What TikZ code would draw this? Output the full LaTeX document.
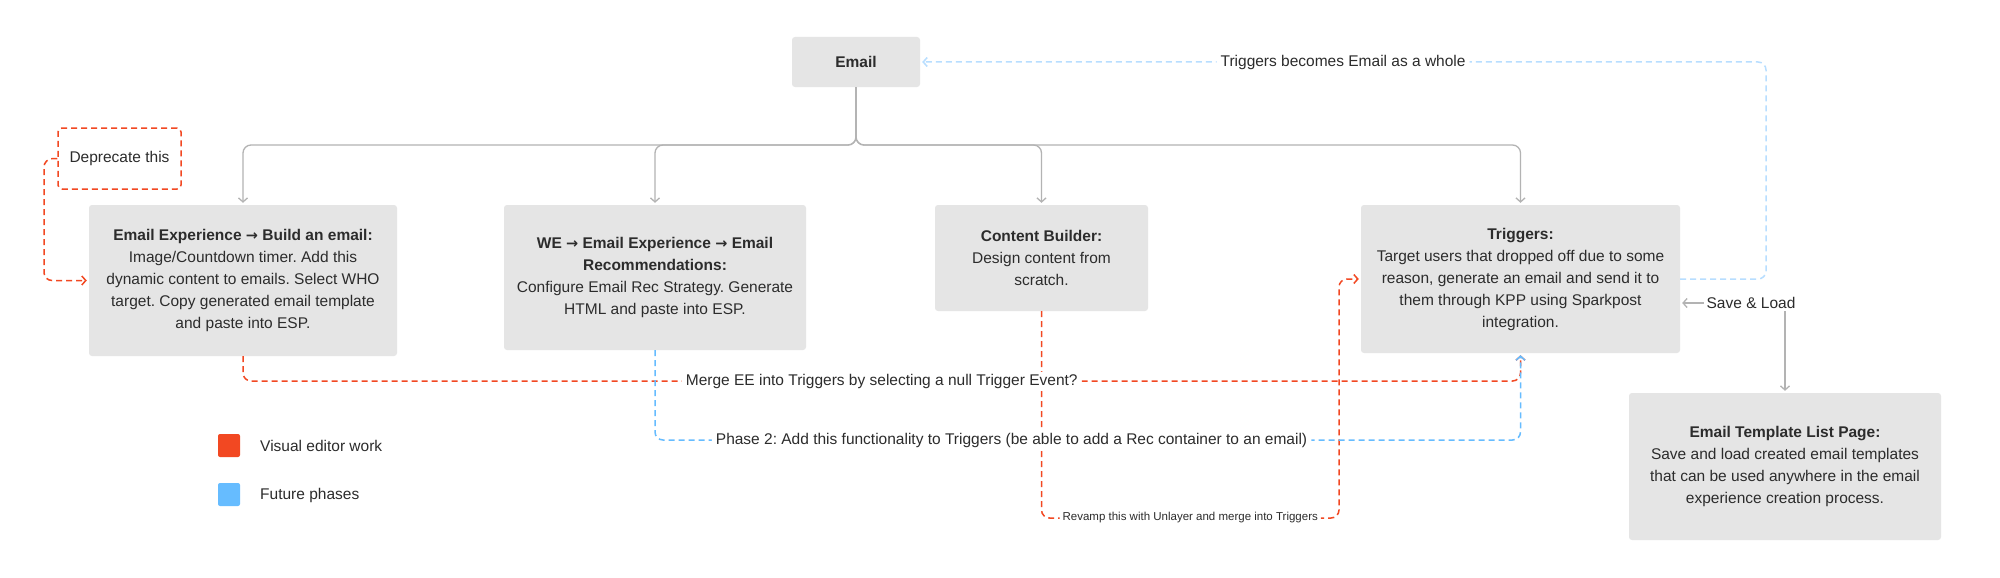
\documentclass[tikz,border=0pt]{standalone}
\usepackage{fontspec}
\setmainfont{Liberation Sans}
\newfontfamily\arrowfont{DejaVu Sans}
\newcommand{\rarr}{{\arrowfont\fontsize{14.5}{22}\selectfont →}}
\usetikzlibrary{arrows.meta}
\definecolor{boxfill}{HTML}{E5E5E5}
\definecolor{txt}{HTML}{2C2C2C}
\definecolor{lgray}{HTML}{B3B3B3}
\definecolor{vred}{HTML}{F24822}
\definecolor{fblue}{HTML}{66BCFF}
\definecolor{pblue}{HTML}{B8DEFF}
\frenchspacing
\begin{document}
\begin{tikzpicture}[x=1pt,y=-1pt,
  every node/.style={text=txt, font=\fontsize{15.5}{22}\selectfont},
  card/.style={fill=boxfill, rounded corners=3pt, inner sep=0pt, align=center},
  barbtip/.style={-{Straight Barb[length=4pt,width=9pt]}},
  tree/.style={draw=lgray, line width=1.3pt, rounded corners=8pt, barbtip, shorten >=2pt},
  reddash/.style={draw=vred, line width=1.5pt, dash pattern=on 6pt off 4pt, rounded corners=8pt, barbtip, shorten >=2pt},
  bluedash/.style={draw=fblue, line width=1.5pt, dash pattern=on 6pt off 4pt, rounded corners=8pt, barbtip, shorten >=2pt},
  paledash/.style={draw=pblue, line width=1.5pt, dash pattern=on 6pt off 4pt, rounded corners=8pt, barbtip, shorten >=2pt},
  lab/.style={fill=white, inner xsep=4pt, inner ysep=2pt},
  legsq/.style={minimum width=22pt, minimum height=23pt, rounded corners=2pt, inner sep=0pt}
]
\useasboundingbox (0,0) rectangle (2000,578);
\fill[white] (0,0) rectangle (2000,578);

% boxes
\node[card, minimum width=128pt, minimum height=50pt] (email) at (856,62) {\textbf{Email}};
\node[card, minimum width=308pt, minimum height=151pt] (ee) at (243,280.5)
  {\textbf{Email Experience \rarr{} Build an email:}\\Image/Countdown timer. Add this\\dynamic content to emails. Select WHO\\target. Copy generated email template\\and paste into ESP.};
\node[card, minimum width=302pt, minimum height=145pt] (we) at (655,277.5)
  {\textbf{WE \rarr{} Email Experience \rarr{} Email}\\\textbf{Recommendations:}\\Configure Email Rec Strategy. Generate\\HTML and paste into ESP.};
\node[card, minimum width=213pt, minimum height=106pt] (cb) at (1041.5,258)
  {\textbf{Content Builder:}\\Design content from\\scratch.};
\node[card, minimum width=319pt, minimum height=148pt] (trig) at (1520.5,279)
  {\textbf{Triggers:}\\Target users that dropped off due to some\\reason, generate an email and send it to\\them through KPP using Sparkpost\\integration.};
\node[card, minimum width=312pt, minimum height=147pt] (etlp) at (1785,466.5)
  {\textbf{Email Template List Page:}\\Save and load created email templates\\that can be used anywhere in the email\\experience creation process.};
\node[draw=vred, line width=1.5pt, dash pattern=on 6pt off 4pt, rounded corners=4pt,
  minimum width=123pt, minimum height=61pt, inner sep=0pt] (dep) at (119.5,158.5) {Deprecate this};

% tree from Email
\coordinate (split) at (856,145);
\draw[tree] (email.south) -- (split) -| (ee.north);
\draw[tree] (email.south) -- (split) -| (we.north);
\draw[tree] (email.south) -- (split) -| (cb.north);
\draw[tree] (email.south) -- (split) -| (trig.north);

% Deprecate -> EE
\coordinate (depc) at (44,159);
\draw[reddash] (dep.west) -- (depc) |- (ee.west);

% Triggers becomes Email
\coordinate (tbe) at (1766,279);
\draw[paledash] (trig.east) -- (tbe) |- node[lab, pos=0.75] {Triggers becomes Email as a whole} (email.east);

% Revamp (CB -> Triggers)
\coordinate (rv) at (1339,518);
\draw[reddash] (cb.south) |- node[lab, pos=0.75, font=\fontsize{11.5}{13}\selectfont, inner xsep=3pt] {Revamp this with Unlayer and merge into Triggers} (rv) |- (trig.west);

% Merge EE into Triggers
\coordinate (me) at (243,381);
\draw[reddash] (ee.south) -- (me) -| node[lab, pos=0.25] {Merge EE into Triggers by selecting a null Trigger Event?} (trig.south);

% Phase 2 (WE -> Triggers)
\coordinate (ph) at (655,440);
\draw[bluedash] (we.south) -- (ph) -| node[lab, pos=0.206] {Phase 2: Add this functionality to Triggers (be able to add a Rec container to an email)} (trig.south);

% Save & Load
\coordinate (sl) at (1785,303);
\draw[draw=lgray, line width=1.3pt, {Straight Barb[length=4pt,width=9pt]}-{Straight Barb[length=4pt,width=9pt]}, shorten >=2pt, shorten <=2pt]
  (trig.east |- sl) -- (sl) -- (etlp.north);
\node[lab, inner xsep=3pt] (sltext) at (1751,303) {Save \& Load};

% legend
\node[legsq, fill=vred] (lred) at (229,445.5) {};
\node[anchor=west, inner sep=0pt] (lredt) at (260,446) {Visual editor work};
\node[legsq, fill=fblue] (lblue) at (229,494.5) {};
\node[anchor=west, inner sep=0pt] (lbluet) at (260,495) {Future phases};
\end{tikzpicture}
\end{document}
